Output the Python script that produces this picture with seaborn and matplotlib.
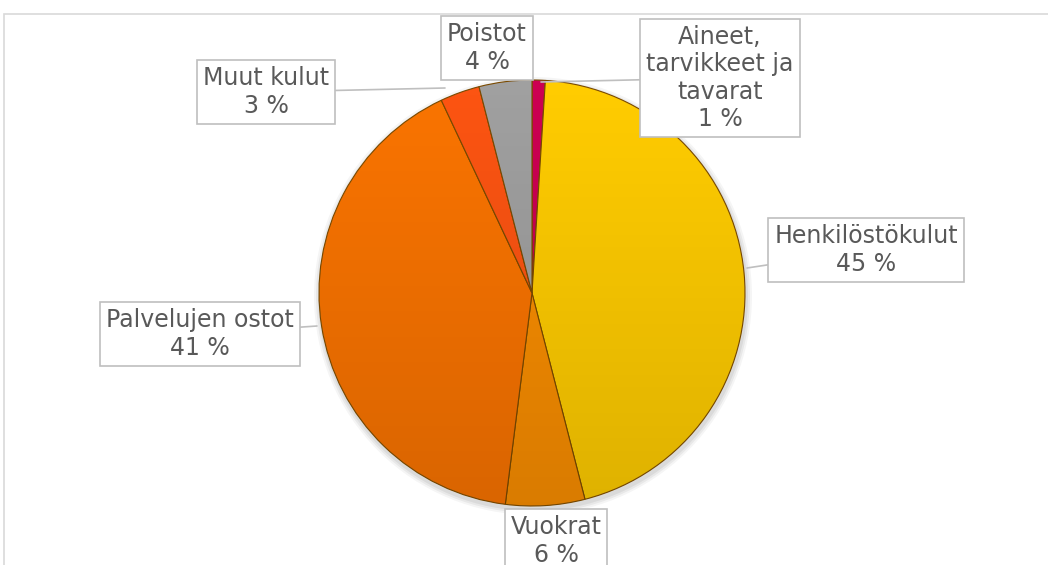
import numpy as np
import seaborn as sns
import matplotlib.pyplot as plt
from matplotlib.patches import Rectangle, Circle

# Data
categories = ['Aineet,\ntarvikkeet ja\ntavarat', 'Henkilöstökulut', 'Vuokrat',
              'Palvelujen ostot', 'Muut kulut', 'Poistot']
shares = [1, 45, 6, 41, 3, 4]
colors = ['#CC0052', '#FFCC00', '#FA8E00', '#FA7400', '#FC5412', '#A0A0A0']

# label box centres and arrow targets in pixel coords (y from top)
label_pos = [(720, 78), (866, 250), (556, 541), (200, 334), (266, 92), (487, 48)]
arrow_to = [(541, 82), (747, 268), None, (317, 326), (445, 88), None]

W, H = 1048, 565

sns.set_theme(style='white')
plt.rcParams['font.family'] = ['DejaVu Sans']

fig = plt.figure(figsize=(W / 100, H / 100), dpi=100)
ax = fig.add_axes([0, 0, 1, 1])

cx, cy, r = 532, H - 293, 213

# soft shadow
for k, a in [(6, 0.04), (4, 0.05), (2, 0.06)]:
    ax.add_patch(Circle((cx + 1, cy - 3), r + k, color='#000000', alpha=a,
                        zorder=1, lw=0))

wedges, _ = ax.pie(shares, colors=colors, startangle=90, counterclock=False,
                   center=(cx, cy), radius=r, frame=True,
                   wedgeprops=dict(edgecolor='#7a4a00', linewidth=0.8))
for w in wedges:
    w.set_zorder(2)

# vertical shading over the pie (lighter top, darker bottom)
grad = np.zeros((100, 2, 4))
grad[..., 3] = np.linspace(0.0, 0.13, 100)[:, None]
img = ax.imshow(grad, extent=(cx - r, cx + r, cy - r, cy + r), origin='upper',
                zorder=3, interpolation='bilinear')
clip = Circle((cx, cy), r, transform=ax.transData)
img.set_clip_path(clip)

ax.set_xlim(0, W)
ax.set_ylim(0, H)
ax.set_aspect('equal')
ax.axis('off')

# chart frame
ax.add_patch(Rectangle((4, -20), W + 20, H - 14 + 20, fill=False,
                       edgecolor='#D9D9D9', linewidth=1.2))

for cat, val, (px, py), tgt in zip(categories, shares, label_pos, arrow_to):
    text = f'{cat}\n{val} %'
    kw = dict(ha='center', va='center', fontsize=17, color='#595959',
              linespacing=1.18, zorder=5,
              bbox=dict(boxstyle='square,pad=0.25', facecolor='white',
                        edgecolor='#BFBFBF', linewidth=1.2))
    if tgt is None:
        ax.text(px, H - py, text, **kw)
    else:
        ax.annotate(text, xy=(tgt[0], H - tgt[1]), xytext=(px, H - py),
                    arrowprops=dict(arrowstyle='-', color='#BFBFBF', lw=1.2,
                                    shrinkA=0, shrinkB=0), **kw)

fig.savefig('out.png', dpi=100)
